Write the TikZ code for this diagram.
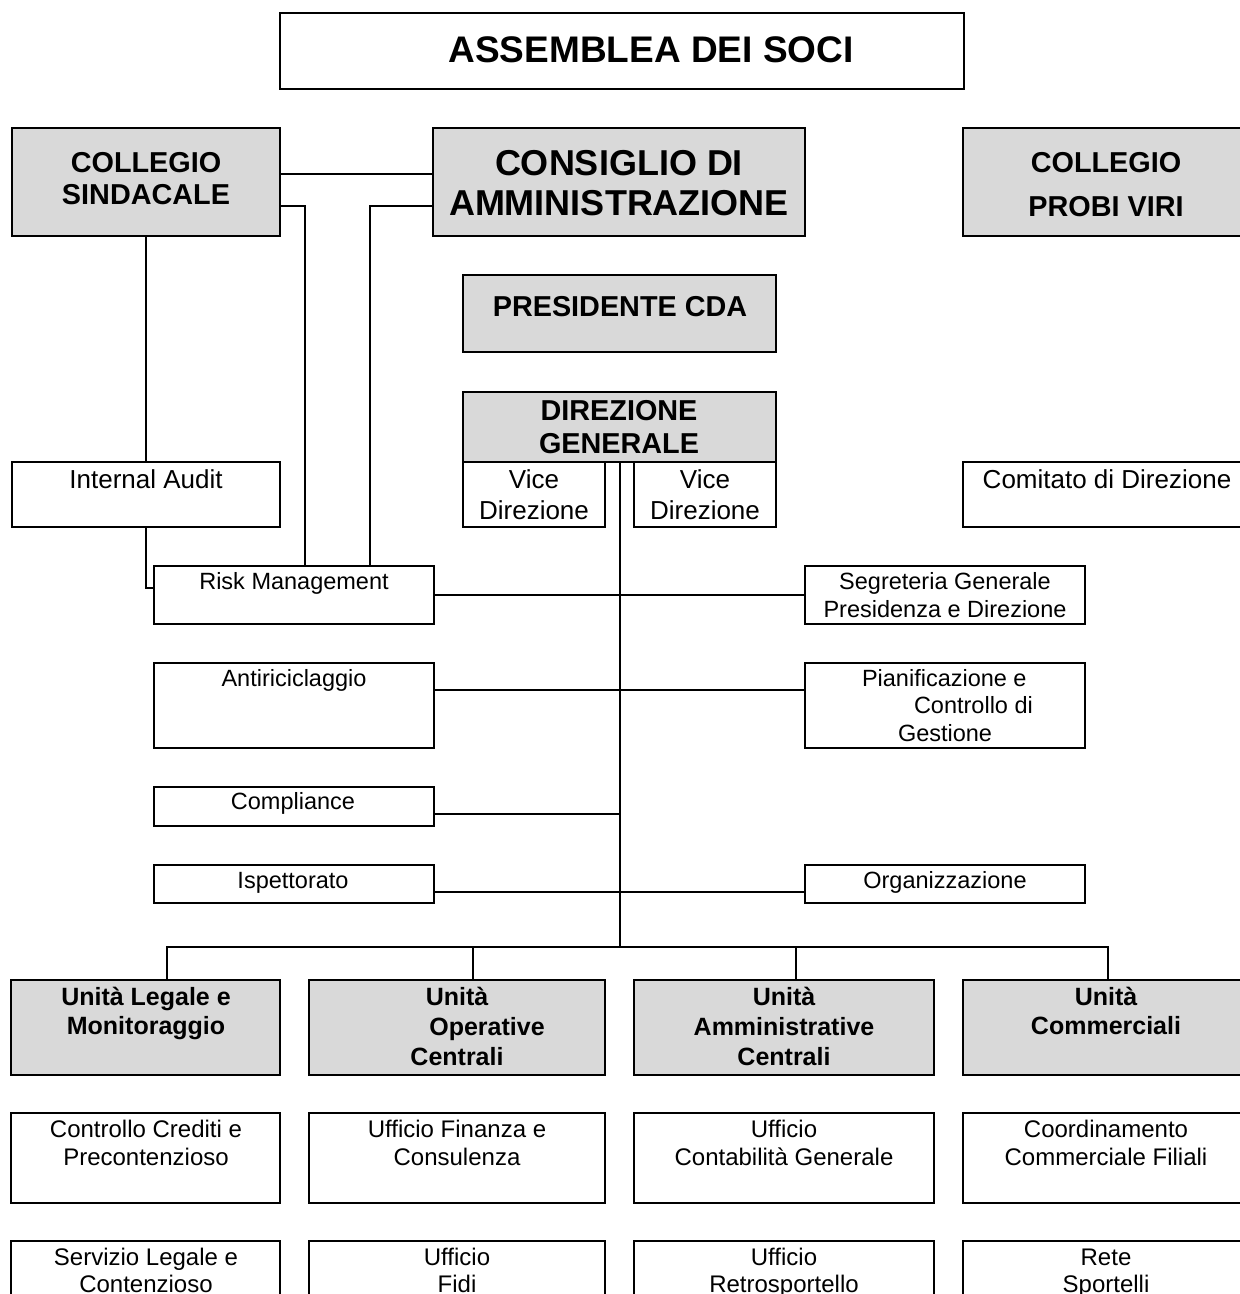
\documentclass[tikz,border=0pt]{standalone}
\usepackage{fontspec}
\setmainfont{Liberation Sans}
\usetikzlibrary{fit}
\definecolor{boxgray}{RGB}{217,217,217}
\newcommand\mlines[1]{\begin{tabular}[t]{@{}c@{}}#1\end{tabular}}
\newcommand\mlinesl[1]{\begin{tabular}[t]{@{}l@{}}#1\end{tabular}}
\newcommand\fsz[2]{\fontsize{#1}{#2}\selectfont}
\begin{document}
\begin{tikzpicture}[x=0.5pt,y=-0.5pt,
  box/.style={draw=black, line width=1.4pt, fill=white, inner sep=0pt, outer sep=0pt},
  gbox/.style={box, fill=boxgray},
  conn/.style={draw=black, line width=1pt},
  txt/.style={inner sep=0pt, outer sep=0pt, anchor=base}]
\useasboundingbox (0,0) rectangle (1240,1294);
\clip (0,0) rectangle (1240,1294);
\fill[white] (0,0) rectangle (1240,1294);

% ---- boxes
\node[box,  fit={(280,13)(964,89)}] (as) {};
\node[gbox, fit={(12,128)(280,236)}] (cs) {};
\node[gbox, fit={(433,128)(805,236)}] (cda) {};
\node[gbox, fit={(963,128)(1249,236)}] (pv) {};
\node[gbox, fit={(463,275)(776,352)}] (pr) {};
\node[gbox, fit={(463,392)(776,462)}] (dg) {};
\node[box,  fit={(463,462)(605,527)}] (vd1) {};
\node[box,  fit={(634,462)(776,527)}] (vd2) {};
\node[box,  fit={(12,462)(280,527)}] (ia) {};
\node[box,  fit={(963,462)(1249,527)}] (cm) {};
\node[box,  fit={(154,566)(434,624)}] (rm) {};
\node[box,  fit={(805,566)(1085,624)}] (sg) {};
\node[box,  fit={(154,663)(434,748)}] (ar) {};
\node[box,  fit={(805,663)(1085,748)}] (pc) {};
\node[box,  fit={(154,787)(434,826)}] (cpl) {};
\node[box,  fit={(154,865)(434,903)}] (isp) {};
\node[box,  fit={(805,865)(1085,903)}] (org) {};
\node[gbox, fit={(11,980)(280,1075)}] (u1) {};
\node[gbox, fit={(309,980)(605,1075)}] (u2) {};
\node[gbox, fit={(634,980)(934,1075)}] (u3) {};
\node[gbox, fit={(963,980)(1249,1075)}] (u4) {};
\node[box,  fit={(11,1113)(280,1203)}] (a1) {};
\node[box,  fit={(309,1113)(605,1203)}] (a2) {};
\node[box,  fit={(634,1113)(934,1203)}] (a3) {};
\node[box,  fit={(963,1113)(1249,1203)}] (a4) {};
\node[box,  fit={(11,1241)(280,1330)}] (b1) {};
\node[box,  fit={(309,1241)(605,1330)}] (b2) {};
\node[box,  fit={(634,1241)(934,1330)}] (b3) {};
\node[box,  fit={(963,1241)(1249,1330)}] (b4) {};

% ---- connectors
\coordinate (bus) at (619.5,947);
\draw[conn] (cs.east |- 0,174) -- (cda.west |- 0,174);
\draw[conn] (cs.east |- 0,206) -| (305,0 |- rm.north);
\draw[conn] (cda.west |- 0,206) -| (370,0 |- rm.north);
\draw[conn] (cs.south) -- (ia.north);
\draw[conn] (ia.south) |- (rm.west |- 0,588);
\draw[conn] (dg.south) -- (bus);
\draw[conn] (rm.east) -- (sg.west);
\draw[conn] (ar.east |- 0,690) -- (pc.west |- 0,690);
\draw[conn] (cpl.east |- 0,814) -- (bus |- 0,814);
\draw[conn] (isp.east |- 0,892) -- (org.west |- 0,892);
\draw[conn] (167,0 |- u1.north) |- (bus) -| (1108,0 |- u4.north);
\draw[conn] (473,0 |- bus) -- (473,0 |- u2.north);
\draw[conn] (796,0 |- bus) -- (796,0 |- u3.north);

% ---- texts
\node[txt, font=\fsz{18.5}{22}\bfseries] (t-as) at (651,63) {ASSEMBLEA DEI SOCI};
\node[txt, font=\fsz{14.4}{16}\bfseries] (t-cs) at (146,173) {\mlines{COLLEGIO\\SINDACALE}};
\node[txt, font=\fsz{18}{20}\bfseries] (t-cda) at (619,176) {\mlines{CONSIGLIO DI\\AMMINISTRAZIONE}};
\node[txt, font=\fsz{14.4}{22}\bfseries] (t-pv) at (1106,173) {\mlines{COLLEGIO\\PROBI VIRI}};
\node[txt, font=\fsz{14.4}{16}\bfseries] (t-pr) at (620,317) {PRESIDENTE CDA};
\node[txt, font=\fsz{14.4}{16.5}\bfseries] (t-dg) at (619,420) {\mlines{DIREZIONE\\GENERALE}};
\node[txt, font=\fsz{13}{15.5}] (t-vd1) at (534,488) {\mlines{Vice\\Direzione}};
\node[txt, font=\fsz{13}{15.5}] (t-vd2) at (705,488) {\mlines{Vice\\Direzione}};
\node[txt, font=\fsz{13}{15}] (t-ia) at (146,488) {Internal Audit};
\node[txt, font=\fsz{13}{15}] (t-cm) at (1107,488) {Comitato di Direzione};
\node[txt, font=\fsz{11.75}{14}] (t-rm) at (294,589) {Risk Management};
\node[txt, font=\fsz{11.75}{14}] (t-sg) at (945,589) {\mlines{Segreteria Generale\\Presidenza e Direzione}};
\node[txt, font=\fsz{11.75}{14}] (t-ar) at (294,686) {Antiriciclaggio};
\node[txt, anchor=base west, font=\fsz{11.75}{13.75}] (t-pc) at (862,686) {\mlinesl{Pianificazione e\\\hspace*{26pt}Controllo di\\\hspace*{18pt}Gestione}};
\node[txt, font=\fsz{11.75}{14}] (t-co) at (293,809) {Compliance};
\node[txt, font=\fsz{11.75}{14}] (t-is) at (293,888) {Ispettorato};
\node[txt, font=\fsz{11.75}{14}] (t-or) at (945,888) {Organizzazione};

\node[txt, font=\fsz{12.5}{14.75}\bfseries] (t-u1) at (146,1005) {\mlines{Unità Legale e\\Monitoraggio}};
\node[txt, font=\fsz{12.5}{15}\bfseries] (t-u2) at (457,1005) {\mlines{Unità\\\hspace*{30pt}Operative\\Centrali}};
\node[txt, font=\fsz{12.5}{15}\bfseries] (t-u3) at (784,1005) {\mlines{Unità\\Amministrative\\Centrali}};
\node[txt, font=\fsz{12.5}{14.75}\bfseries] (t-u4) at (1106,1005) {\mlines{Unità\\Commerciali}};

\node[txt, font=\fsz{12}{14}] (t-a1) at (146,1137) {\mlines{Controllo Crediti e\\Precontenzioso}};
\node[txt, font=\fsz{12}{14}] (t-a2) at (457,1137) {\mlines{Ufficio Finanza e\\Consulenza}};
\node[txt, font=\fsz{12}{14}] (t-a3) at (784,1137) {\mlines{Ufficio\\Contabilità Generale}};
\node[txt, font=\fsz{12}{14}] (t-a4) at (1106,1137) {\mlines{Coordinamento\\Commerciale Filiali}};

\node[txt, font=\fsz{12}{13.5}] (t-b1) at (146,1265) {\mlines{Servizio Legale e\\Contenzioso}};
\node[txt, font=\fsz{12}{13.5}] (t-b2) at (457,1265) {\mlines{Ufficio\\Fidi}};
\node[txt, font=\fsz{12}{13.5}] (t-b3) at (784,1265) {\mlines{Ufficio\\Retrosportello}};
\node[txt, font=\fsz{12}{13.5}] (t-b4) at (1106,1265) {\mlines{Rete\\Sportelli}};
\end{tikzpicture}
\end{document}
